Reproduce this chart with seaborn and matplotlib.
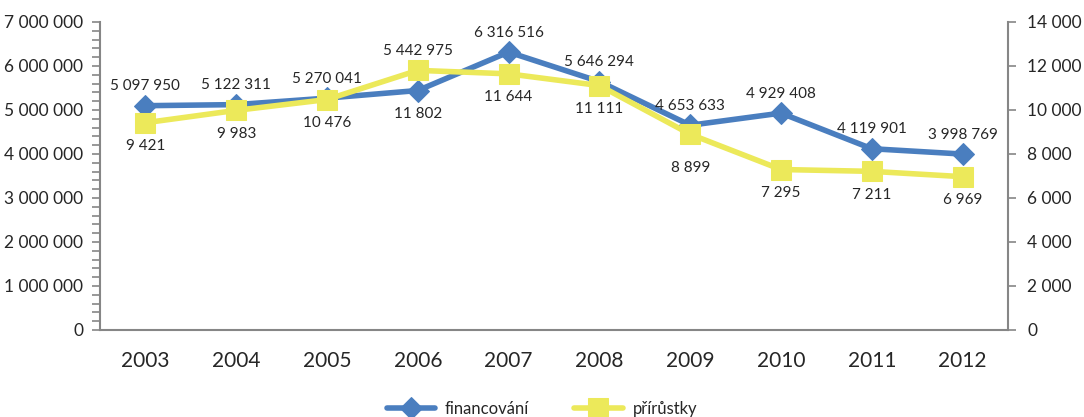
import matplotlib
matplotlib.use("Agg")
import matplotlib.pyplot as plt
import seaborn as sns
import pandas as pd
from matplotlib.ticker import FuncFormatter, MultipleLocator

# data
years = ["2003", "2004", "2005", "2006", "2007", "2008", "2009", "2010", "2011", "2012"]
financovani = [5097950, 5122311, 5270041, 5442975, 6316516, 5646294, 4653633, 4929408, 4119901, 3998769]
prirustky = [9421, 9983, 10476, 11802, 11644, 11111, 8899, 7295, 7211, 6969]

blue = "#4a7ebf"
yellow = "#ece95a"
gray = "#868686"

sns.set_theme(style="white")
plt.rcParams["font.family"] = ["Lato", "DejaVu Sans"]


def fmt(v, pos=None):
    return f"{int(v):,}".replace(",", " ")


df = pd.DataFrame({"rok": list(range(len(years))), "fin": financovani, "pri": prirustky})

fig = plt.figure(figsize=(10.84, 4.17), dpi=100)
ax = fig.add_axes([100 / 1084, 1 - 330 / 417, 908 / 1084, 308 / 417])
ax2 = ax.twinx()

sns.lineplot(data=df, x="rok", y="fin", ax=ax, color=blue, lw=4, marker="D",
             markersize=11, markeredgecolor=blue, label="financování", legend=False, zorder=3)
sns.lineplot(data=df, x="rok", y="pri", ax=ax2, color=yellow, lw=4, marker="s",
             markersize=14, markeredgecolor=yellow, label="přírůstky", legend=False, zorder=3)

ax.set_xlim(-0.5, len(years) - 0.5)
ax.set_ylim(0, 7000000)
ax2.set_ylim(0, 14000)
ax.set_xticks(range(len(years)))
ax.set_xticklabels(years, fontsize=15)
ax.yaxis.set_major_locator(MultipleLocator(1000000))
ax.yaxis.set_minor_locator(MultipleLocator(200000))
ax2.yaxis.set_major_locator(MultipleLocator(2000))
ax.yaxis.set_major_formatter(FuncFormatter(fmt))
ax2.yaxis.set_major_formatter(FuncFormatter(fmt))
ax.set_xlabel("")
ax.set_ylabel("")
ax2.set_ylabel("")

for a in (ax, ax2):
    for s in a.spines.values():
        s.set_visible(False)
ax.spines["left"].set_visible(True)
ax.spines["bottom"].set_visible(True)
ax2.spines["right"].set_visible(True)
for s in (ax.spines["left"], ax.spines["bottom"], ax2.spines["right"]):
    s.set_color(gray)
    s.set_linewidth(1.5)

ax.tick_params(axis="y", which="both", left=True, length=6, width=1.2, color=gray,
               labelsize=12.5, pad=6)
ax.tick_params(axis="x", bottom=False, labelsize=15, pad=9)
ax2.tick_params(axis="y", right=True, length=6, width=1.2, color=gray, labelsize=12.5, pad=8)

# data labels: blue above the higher marker, yellow below the lower one
ratio = 7000000 / 14000
for i, (f, p) in enumerate(zip(financovani, prirustky)):
    top = max(f, p * ratio)
    low = min(f, p * ratio)
    ax.annotate(fmt(f), (i, top), xytext=(0, 14), textcoords="offset points",
                ha="center", va="center", fontsize=11, zorder=5)
    extra = -7 if years[i] == "2009" else 0
    ax.annotate(fmt(p), (i, low), xytext=(0, -17 + extra), textcoords="offset points",
                ha="center", va="center", fontsize=11, zorder=5)

h1, l1 = ax.get_legend_handles_labels()
h2, l2 = ax2.get_legend_handles_labels()
fig.legend(h1 + h2, l1 + l2, loc="center", bbox_to_anchor=(0.5, 0.02), ncol=2,
           frameon=False, fontsize=12, handlelength=2.9, handletextpad=0.6,
           columnspacing=2.7)

fig.savefig("out.png", dpi=100)
